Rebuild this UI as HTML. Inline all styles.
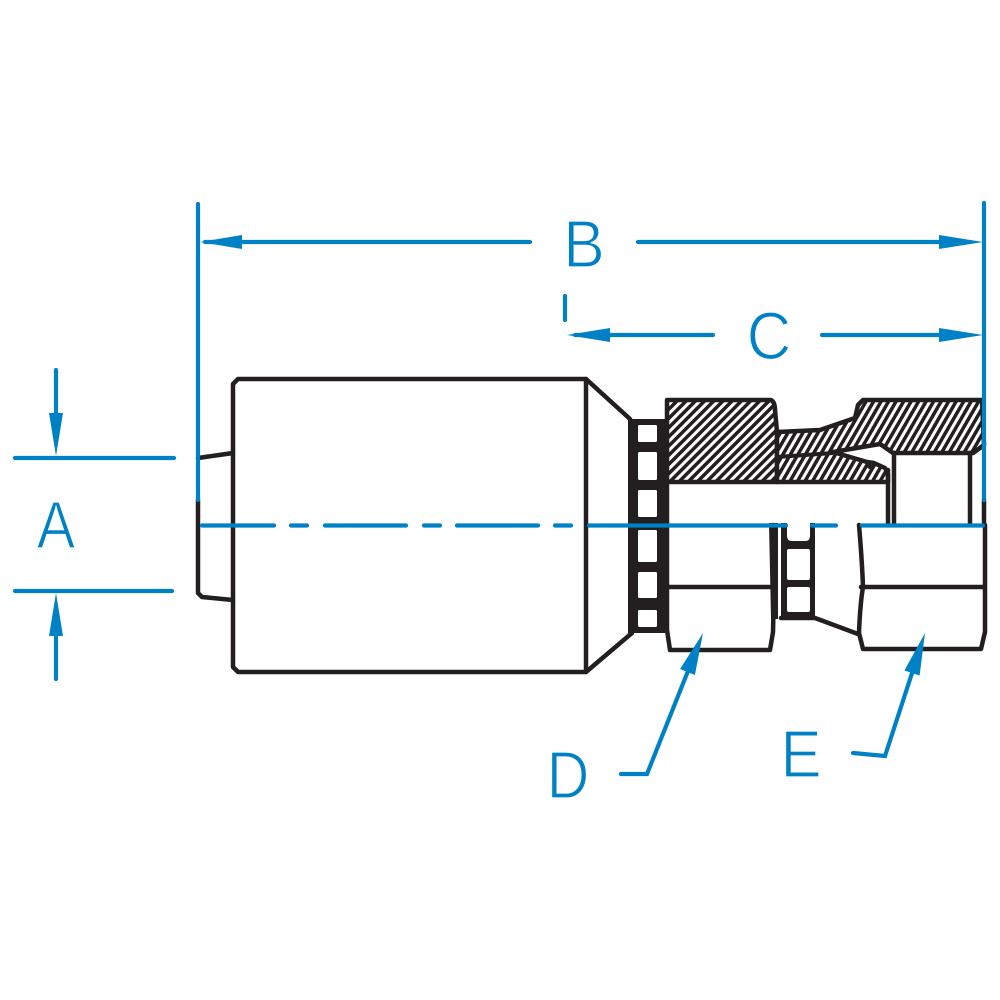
<!DOCTYPE html>
<html>
<head>
<meta charset="utf-8">
<style>
  html,body{margin:0;padding:0;background:#fff;}
  svg{display:block;}
  .lbl{font-family:"Liberation Sans",sans-serif;font-size:67px;fill:#0081C6;stroke:#fff;stroke-width:1.3px;}
</style>
</head>
<body>
<svg width="1000" height="1000" viewBox="0 0 1000 1000" xmlns="http://www.w3.org/2000/svg">
  <defs>
    <pattern id="h1" patternUnits="userSpaceOnUse" width="6.5" height="6.5" patternTransform="rotate(45)">
      <rect width="6.5" height="6.5" fill="#fff"/>
      <rect x="0" y="0" width="3.5" height="6.5" fill="#231F20"/>
    </pattern>
    <pattern id="h2" patternUnits="userSpaceOnUse" width="6.5" height="6.5" patternTransform="rotate(30)">
      <rect width="6.5" height="6.5" fill="#fff"/>
      <rect x="0" y="0" width="3.5" height="6.5" fill="#231F20"/>
    </pattern>
  </defs>

  <g fill="none" stroke="#231F20" stroke-width="4.5" stroke-linejoin="round" stroke-linecap="round">
    <path d="M233,384 L233,667 L238,672 L586,672 L586,379 L238,379 Z"/>
    <path d="M586,379 L630,419"/>
    <path d="M586,672 L632,633"/>
    <path d="M198,458 L233,453"/>
    <path d="M198,500 L198,593 L202,597 L233,600"/>
  </g>

  <rect x="628" y="419" width="39" height="214" fill="#231F20"/>
  <g fill="#fff">
    <rect x="638" y="425" width="19" height="17" rx="1.5"/>
    <rect x="638" y="452" width="19" height="28" rx="1.5"/>
    <rect x="638" y="490" width="19" height="27" rx="1.5"/>
    <rect x="638" y="530" width="19" height="32" rx="1.5"/>
    <rect x="638" y="572" width="19" height="26" rx="1.5"/>
    <rect x="638" y="610" width="19" height="17" rx="1.5"/>
  </g>

  <path d="M667,400 L771,400 Q775,402 775,410 L777,432 L777,482 L667,482 Z" fill="url(#h1)" stroke="#231F20" stroke-width="4.5" stroke-linejoin="round"/>
  <path d="M777,432 L820,430 L855,418 L858,405 L863,400 L982,400 L984,445 L973,453 L893,453 L880,444 L833,452 L867,462 L874,463 L885,468 L888,474 L888,482 L777,482 Z" fill="url(#h2)" stroke="#231F20" stroke-width="4.5" stroke-linejoin="round"/>
  <path d="M777,457 L833,453" stroke="#231F20" stroke-width="4" fill="none"/>
  <circle cx="871" cy="465" r="4.5" fill="#231F20"/>

  <g fill="none" stroke="#231F20" stroke-width="4.5" stroke-linejoin="round" stroke-linecap="round">
    <path d="M667,482 L667,630 L670,650 L770,650 L773,632 L774,590 L773,525"/>
    <path d="M667,587 L771,587"/>
    <path d="M859,525 Q862,560 863,587 Q860,605 859,633 L863,649 L981,649 L985,632 L985,525"/>
    <path d="M861,587 L984,587"/>
    <path d="M888,470 L888,525"/>
    <path d="M894,453 L894,525"/>
    <path d="M970,453 L970,525"/>
    <path d="M984,500 L984,525"/>
    <path d="M781,618 L815,618 L858,634"/>
  </g>
  <polygon points="769,523 778,523 778,619 771,619" fill="#231F20"/>
  <rect x="781" y="523" width="34" height="96" fill="#231F20"/>
  <g fill="#fff">
    <path d="M787,523 L810,523 L810,536 Q810,541 805,541 L792,541 Q787,541 787,536 Z"/>
    <rect x="787" y="549" width="23" height="31" rx="2"/>
    <rect x="787" y="587" width="23" height="25" rx="2"/>
  </g>

  <g stroke="#0081C6" stroke-width="4.2" stroke-linecap="round" fill="none">
    <path d="M198,204 L198,500"/>
    <path d="M984,203 L984,500"/>
    <path d="M205,242 L530,242"/>
    <path d="M638,242 L945,242"/>
    <path d="M565,296 L565,320"/>
    <path d="M575,335 L713,335"/>
    <path d="M822,335 L945,335"/>
    <path d="M15,458 L174,458"/>
    <path d="M15,591 L172,591"/>
    <path d="M56,370 L56,420"/>
    <path d="M56,630 L56,679"/>
    <path d="M621,774 L647,774 L690,666"/>
    <path d="M853,753 L885,756 L914,667"/>
    <path d="M202,525.5 L274,525.5"/>
    <path d="M291,525.5 L307,525.5"/>
    <path d="M325,525.5 L406,525.5"/>
    <path d="M424,525.5 L440,525.5"/>
    <path d="M457,525.5 L538,525.5"/>
    <path d="M555,525.5 L571,525.5"/>
    <path d="M589,525.5 L786,525.5"/>
    <path d="M812,525.5 L836,525.5"/>
    <path d="M862,525.5 L983,525.5"/>
  </g>
  <g fill="#0081C6">
    <polygon points="200,242 242,235 242,249"/>
    <polygon points="983,242 939,235 939,249"/>
    <polygon points="567,335 610,328 610,342"/>
    <polygon points="983,335 939,328 939,342"/>
    <polygon points="56,456 49,413 63,413"/>
    <polygon points="56,593 49,636 63,636"/>
    <polygon points="703,633 694.9,675 680.1,669"/>
    <polygon points="925,633 919.6,675.5 904.4,670.5"/>
  </g>

  <text class="lbl" text-anchor="middle" transform="translate(56,548) scale(0.86,1)">A</text>
  <text class="lbl" text-anchor="middle" transform="translate(584,267) scale(0.93,1)">B</text>
  <text class="lbl" text-anchor="middle" transform="translate(769,359) scale(0.92,1)">C</text>
  <text class="lbl" text-anchor="middle" transform="translate(568,798) scale(0.88,1)">D</text>
  <text class="lbl" text-anchor="middle" transform="translate(801,777) scale(0.92,1)">E</text>
</svg>
</body>
</html>
